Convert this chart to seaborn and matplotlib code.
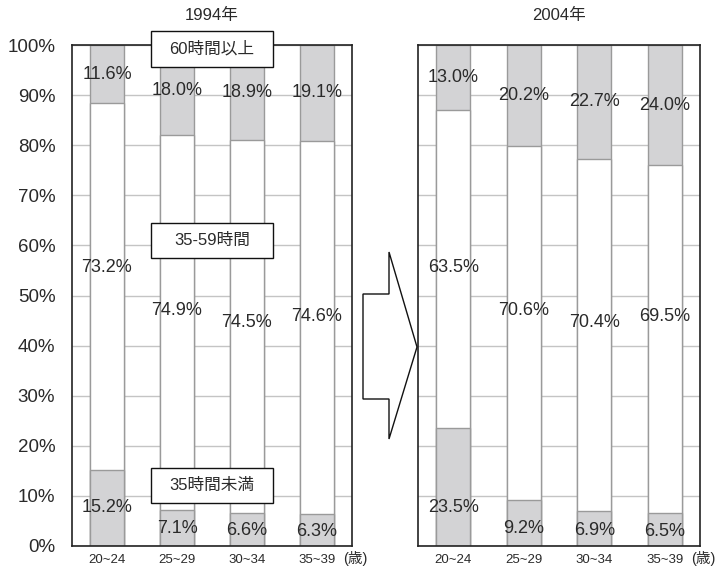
import numpy as np
import pandas as pd
import matplotlib
matplotlib.use("Agg")
import matplotlib.pyplot as plt
from matplotlib.patches import Rectangle, Polygon
import seaborn as sns

# Age groups and weekly working-hour shares (%)
ages = ["20~24", "25~29", "30~34", "35~39"]
years = ["1994年", "2004年"]
under35 = {"1994年": [15.2, 7.1, 6.6, 6.3], "2004年": [23.5, 9.2, 6.9, 6.5]}
h35_59 = {"1994年": [73.2, 74.9, 74.5, 74.6], "2004年": [63.5, 70.6, 70.4, 69.5]}
over60 = {"1994年": [11.6, 18.0, 18.9, 19.1], "2004年": [13.0, 20.2, 22.7, 24.0]}
legend_labels = ["60時間以上", "35-59時間", "35時間未満"]
yticks = [0, 10, 20, 30, 40, 50, 60, 70, 80, 90, 100]

# Label rows (y in % units) for the middle and bottom value labels
mid_label_rows = [55.5, 47.1, 44.7, 45.9]
low_label_rows = [7.6, 3.4, 3.0, 2.8]

plt.rcParams["font.family"] = ["Liberation Sans", "Noto Sans CJK JP"]

GRAY = "#d3d3d5"
EDGE = "#9a9a9a"
TXT = "#2a2a2a"

fig = plt.figure(figsize=(7.26, 5.70), dpi=100)
W, H = 726, 570


def px_axes(x0, x1, y0, y1):
    return fig.add_axes([x0 / W, 1 - y1 / H, (x1 - x0) / W, (y1 - y0) / H])


axes = [px_axes(72, 352, 45, 546), px_axes(418, 700, 45, 546)]

for ax, yr in zip(axes, years):
    lo = np.array(under35[yr])
    mid = np.array(h35_59[yr])
    hi = np.array(over60[yr])
    df = pd.DataFrame({"age": ages, "total": lo + mid + hi, "lower2": lo + mid, "lower": lo})
    # stacked appearance by overpainting cumulative bars
    for col, fc in [("total", GRAY), ("lower2", "white"), ("lower", GRAY)]:
        sns.barplot(data=df, x="age", y=col, color=fc, width=0.48, edgecolor=EDGE,
                    linewidth=1.0, saturation=1, errorbar=None, ax=ax, zorder=3)
    ax.set_xlim(-0.5, 3.5)
    ax.set_ylim(0, 100)
    ax.set_yticks(yticks)
    ax.yaxis.grid(True, color="#c4c4c4", linewidth=1.0, zorder=0)
    ax.set_axisbelow(True)
    ax.set_xlabel("")
    ax.set_ylabel("")
    ax.tick_params(axis="both", length=0, colors=TXT)
    ax.tick_params(axis="x", labelsize=9.5, pad=6)
    for s in ax.spines.values():
        s.set_color("#222222")
        s.set_linewidth(1.2)
        s.set_zorder(5)
    ax.set_title(yr, fontsize=12, color=TXT, pad=18)
    ax.text(3.37, -2.45, "(歳)", fontsize=10.5, color=TXT, ha="left", va="center",
            clip_on=False)

    # value labels
    for i in range(len(ages)):
        ax.text(i, 100 - hi[i] / 2, f"{hi[i]:.1f}%", ha="center", va="center",
                fontsize=13, color=TXT, zorder=6)
        ax.text(i, mid_label_rows[i], f"{mid[i]:.1f}%", ha="center", va="center",
                fontsize=13, color=TXT, zorder=6)
        ax.text(i, low_label_rows[i], f"{lo[i]:.1f}%", ha="center", va="center",
                fontsize=13, color=TXT, zorder=6)

axes[0].set_yticklabels([f"{v}%" for v in yticks], fontsize=13.5)
axes[0].tick_params(axis="y", pad=12)
axes[1].set_yticklabels([])

# segment name boxes on the left panel
for label, yc in zip(legend_labels, [99.2, 61.0, 12.0]):
    axes[0].add_patch(Rectangle((1.5 - 0.865, yc - 3.5), 1.73, 7.0, facecolor="white",
                                edgecolor="#111111", linewidth=1.0, zorder=7,
                                clip_on=False))
    axes[0].text(1.5, yc, label, ha="center", va="center", fontsize=12,
                 color=TXT, zorder=8, clip_on=False)

# arrow between the panels
pts = [(363, 294), (389, 294), (389, 252), (417, 347), (389, 439), (389, 399), (363, 399)]
fig.patches.append(Polygon([(x / W, 1 - y / H) for x, y in pts], closed=True,
                           facecolor="white", edgecolor="#111111", linewidth=1.0,
                           transform=fig.transFigure, figure=fig))

fig.savefig("out.png", dpi=100)
